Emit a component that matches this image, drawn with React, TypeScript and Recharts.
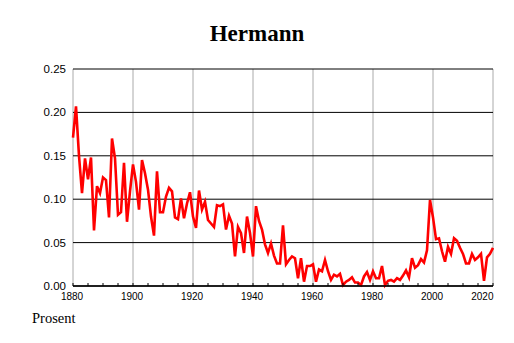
import React from 'react';
import { LineChart, Line, XAxis, YAxis, CartesianGrid } from 'recharts';

const startYear = 1880;
const values: number[] = [
  0.171, 0.207, 0.150, 0.107, 0.147, 0.123, 0.148, 0.064, 0.115, 0.107,
  0.125, 0.122, 0.079, 0.170, 0.147, 0.082, 0.085, 0.142, 0.074, 0.109,
  0.140, 0.120, 0.088, 0.145, 0.130, 0.111, 0.080, 0.058, 0.132, 0.085,
  0.085, 0.103, 0.113, 0.109, 0.079, 0.077, 0.101, 0.078, 0.095, 0.108,
  0.080, 0.067, 0.110, 0.088, 0.097, 0.076, 0.072, 0.068, 0.093, 0.092,
  0.094, 0.065, 0.081, 0.072, 0.034, 0.068, 0.061, 0.038, 0.080, 0.061,
  0.034, 0.092, 0.075, 0.065, 0.048, 0.038, 0.049, 0.035, 0.026, 0.026,
  0.070, 0.025, 0.030, 0.034, 0.032, 0.009, 0.032, 0.005, 0.023, 0.023,
  0.025, 0.005, 0.019, 0.017, 0.030, 0.017, 0.007, 0.013, 0.011, 0.014,
  0.001, 0.005, 0.007, 0.010, 0.004, 0.004, 0.001, 0.011, 0.016, 0.007,
  0.017, 0.009, 0.009, 0.023, 0.001, 0.006, 0.007, 0.005, 0.009, 0.007,
  0.012, 0.018, 0.010, 0.032, 0.021, 0.024, 0.031, 0.027, 0.041, 0.099,
  0.079, 0.054, 0.055, 0.040, 0.028, 0.045, 0.037, 0.055, 0.052, 0.044,
  0.037, 0.026, 0.026, 0.037, 0.030, 0.033, 0.037, 0.006, 0.033, 0.037,
  0.044,
];
const years: number[] = values.map((_, i) => startYear + i);
const data = years.map((year, i) => ({ year, value: values[i] }));

const xTicks: number[] = [];
for (let y = 1880; y <= 2020; y += 5) xTicks.push(y);
const xLabelYears = [1880, 1900, 1920, 1940, 1960, 1980, 2000, 2020];
const yTicks = [0, 0.05, 0.1, 0.15, 0.2, 0.25];

const title = 'Hermann';
const yUnit = 'Prosent';

const XTick = (props: any) => {
  const { x, y, payload } = props;
  const v = payload.value as number;
  const labeled = xLabelYears.includes(v);
  const isLast = v === 2020;
  return (
    <g>
      <line x1={x} x2={x} y1={y - 3} y2={y} stroke="#000" strokeWidth={1} />
      {labeled && (
        <text
          x={isLast ? x + 0.5 : x - 1}
          y={y + 14}
          textAnchor={isLast ? 'end' : 'middle'}
          fontSize={10}
          fontFamily="'Liberation Sans', Arial, sans-serif"
          fill="#000"
        >
          {v}
        </text>
      )}
    </g>
  );
};

export default function App() {
  return (
    <div style={{ position: 'absolute', left: 0, top: 0, width: 514, height: 343, background: '#fff' }}>
      <LineChart
        width={514}
        height={343}
        data={data}
        margin={{ top: 69, right: 21, bottom: 0, left: 0 }}
      >
        <CartesianGrid horizontal={false} vertical verticalValues={xLabelYears} stroke="#aaaaaa" strokeWidth={1} />
        <CartesianGrid vertical={false} horizontal horizontalValues={yTicks} stroke="#000" strokeWidth={1} />
        <XAxis
          dataKey="year"
          type="number"
          domain={[1880, 2020]}
          ticks={xTicks}
          interval={0}
          height={57}
          tickSize={0}
          tickMargin={0}
          tickLine={false}
          axisLine={{ stroke: '#000', strokeWidth: 1.5 }}
          tick={<XTick />}
        />
        <YAxis
          type="number"
          domain={[0, 0.25]}
          ticks={yTicks}
          interval={0}
          width={73}
          tickSize={0}
          tickMargin={7}
          tickLine={false}
          axisLine={false}
          tickFormatter={(v: number) => v.toFixed(2)}
          tick={{ fill: '#000', fontSize: 11.5, fontFamily: "'Liberation Sans', Arial, sans-serif" }}
        />
        <Line
          type="linear"
          dataKey="value"
          stroke="#ff0000"
          strokeWidth={2.6}
          dot={false}
          isAnimationActive={false}
          strokeLinejoin="miter"
        />
      </LineChart>
      <svg width={514} height={343} style={{ position: 'absolute', left: 0, top: 0, pointerEvents: 'none' }}>
        <text
          x={257}
          y={41}
          textAnchor="middle"
          fontSize={23}
          fontWeight="bold"
          fontFamily="'Liberation Serif', 'Times New Roman', serif"
          fill="#000"
        >
          {title}
        </text>
        <text
          x={32}
          y={323}
          fontSize={14.5}
          fontFamily="'Liberation Serif', 'Times New Roman', serif"
          fill="#000"
        >
          {yUnit}
        </text>
      </svg>
    </div>
  );
}
